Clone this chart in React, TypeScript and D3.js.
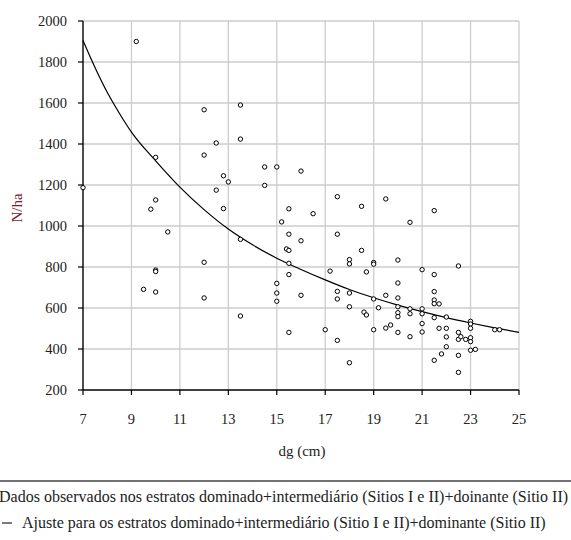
import React from "react";
import * as d3 from "d3";

// observed points (dg in cm, N/ha)
const dgObs = [
  7, 9.2, 9.5, 9.8, 10, 10, 10, 10, 10, 10.5,
  12, 12, 12, 12, 12.5, 12.5, 12.8, 12.8, 13, 13.5,
  13.5, 13.5, 13.5, 14.5, 14.5, 15, 15, 15, 15, 15.2,
  15.4, 15.5, 15.5, 15.5, 15.5, 15.5, 15.5, 16, 16, 16,
  16.5, 17, 17.2, 17.5, 17.5, 17.5, 17.5, 17.5, 18, 18,
  18, 18, 18, 18.5, 18.5, 18.6, 18.7, 18.7, 19, 19,
  19, 19, 19.2, 19.5, 19.5, 19.5, 19.7, 20, 20, 20,
  20, 20, 20, 20, 20.5, 20.5, 20.5, 20.5, 21, 21,
  21, 21, 21, 21.5, 21.5, 21.5, 21.5, 21.5, 21.5, 21.5,
  21.7, 21.7, 21.8, 22, 22, 22, 22, 22.5, 22.5, 22.5,
  22.5, 22.5, 22.6, 22.8, 23, 23, 23, 23, 23, 23,
  23.2, 24, 24.2,
];
const nObs = [
  1187, 1900, 691, 1082, 1335, 1127, 785, 778, 678, 971,
  1567, 1346, 823, 649, 1405, 1175, 1245, 1085, 1215, 1590,
  1424, 935, 561, 1288, 1198, 1288, 720, 673, 633, 1020,
  888, 1084, 960, 881, 818, 763, 481, 1268, 928, 662,
  1060, 494, 780, 1143, 960, 681, 644, 442, 836, 815,
  673, 606, 333, 1096, 881, 580, 776, 566, 822, 814,
  644, 494, 601, 1132, 662, 502, 517, 834, 722, 649,
  606, 577, 558, 481, 1018, 596, 572, 460, 787, 596,
  572, 524, 483, 1075, 763, 680, 639, 621, 553, 345,
  620, 501, 376, 556, 501, 459, 411, 805, 481, 447,
  369, 286, 460, 447, 535, 522, 501, 455, 436, 394,
  398, 494, 494,
];

// fitted curve
const dgFit = [7, 7.5, 8, 8.5, 9, 10, 11, 12, 13, 14, 15, 16, 17, 18, 19, 20, 21, 22, 23, 24, 25];
const nFit = [1905, 1772, 1652, 1550, 1458, 1318, 1190, 1080, 985, 908, 843, 788, 737, 690, 650, 614, 582, 553, 527, 503, 481];

const xTicks = [7, 9, 11, 13, 15, 17, 19, 21, 23, 25];
const yTicks = [200, 400, 600, 800, 1000, 1200, 1400, 1600, 1800, 2000];

const legendObs = "Dados observados nos estratos dominado+intermediário (Sitios I e II)+doinante (Sitio II)";
const legendFit = "Ajuste para os estratos dominado+intermediário (Sitio I e II)+dominante (Sitio II)";

const FONT = "Liberation Serif";

const App = () => {
  const width = 571;
  const height = 540;

  const x = d3.scaleLinear().domain([7, 25]).range([83, 519]);
  const y = d3.scaleLinear().domain([200, 2000]).range([390, 21]);

  const fitLine = d3
    .line<number>()
    .x((d, i) => x(dgFit[i]))
    .y((d) => y(d))
    .curve(d3.curveMonotoneX);

  return (
    <svg
      width={width}
      height={height}
      fontFamily={FONT}
      style={{ position: "absolute", left: 0, top: 0, background: "#fff" }}
    >
      {/* grid */}
      {yTicks.slice(1).map((t) => (
        <line key={"gy" + t} x1={x(7)} x2={x(25)} y1={y(t)} y2={y(t)} stroke="#cdcdcd" strokeWidth={1.3} />
      ))}
      {xTicks.slice(1).map((t) => (
        <line key={"gx" + t} x1={x(t)} x2={x(t)} y1={y(2000)} y2={y(200)} stroke="#cdcdcd" strokeWidth={1.3} />
      ))}

      {/* axes */}
      <line x1={x(7)} x2={x(7)} y1={y(2000)} y2={y(200)} stroke="#000" strokeWidth={1.4} />
      <line x1={x(7)} x2={x(25)} y1={y(200)} y2={y(200)} stroke="#000" strokeWidth={1.4} />
      {yTicks.map((t) => (
        <g key={"ty" + t}>
          <line x1={x(7) - 5} x2={x(7)} y1={y(t)} y2={y(t)} stroke="#000" strokeWidth={1.2} />
          <text x={x(7) - 16} y={y(t)} dy="0.35em" textAnchor="end" fontSize={14.5} fill="#222" fontFamily={FONT}>
            {t}
          </text>
        </g>
      ))}
      {xTicks.map((t) => (
        <g key={"tx" + t}>
          <line x1={x(t)} x2={x(t)} y1={y(200)} y2={y(200) + 5} stroke="#000" strokeWidth={1.2} />
          <text x={x(t)} y={y(200) + 29} dy="0.35em" textAnchor="middle" fontSize={14.5} fill="#222" fontFamily={FONT}>
            {t}
          </text>
        </g>
      ))}

      <text x={302} y={456} textAnchor="middle" fontSize={15} fill="#222" fontFamily={FONT}>
        dg (cm)
      </text>
      <text
        transform={`translate(22, 208) rotate(-90)`}
        textAnchor="middle"
        fontSize={15}
        fill="#7a1a2a"
        fontFamily={FONT}
      >
        N/ha
      </text>

      {/* fitted curve */}
      <path d={fitLine(nFit) || ""} fill="none" stroke="#000" strokeWidth={1.2} />

      {/* observed */}
      {dgObs.map((d, i) => (
        <circle key={"p" + i} cx={x(d)} cy={y(nObs[i])} r={2.2} fill="#fff" stroke="#000" strokeWidth={1} />
      ))}

      {/* legend */}
      <line x1={0} x2={width} y1={481} y2={481} stroke="#444" strokeWidth={1.3} />
      <text x={-1} y={502} fontSize={16} fill="#222" fontFamily={FONT}>
        {legendObs}
      </text>
      <line x1={2} x2={12} y1={523} y2={523} stroke="#222" strokeWidth={1.2} />
      <text x={22} y={528} fontSize={16} fill="#222" fontFamily={FONT}>
        {legendFit}
      </text>
    </svg>
  );
};

export default App;
